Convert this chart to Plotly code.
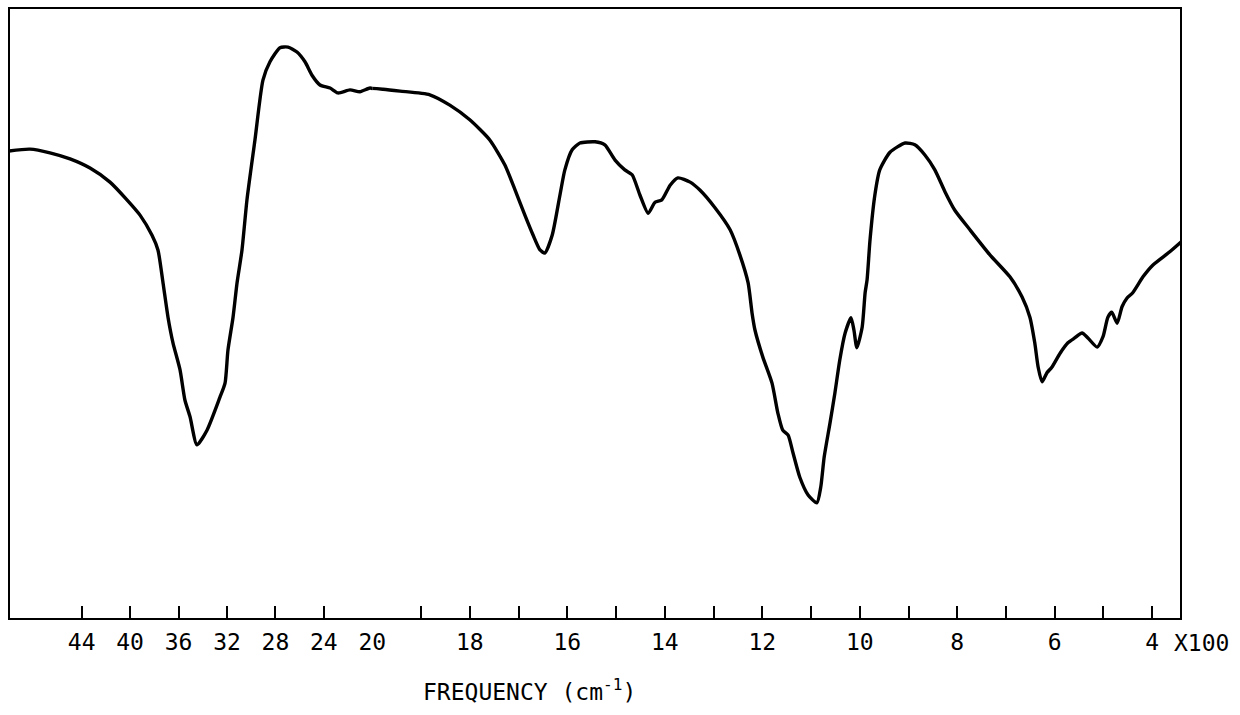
import plotly.graph_objects as go

# Wavenumber (cm^-1) and transmittance (%)
wavenumber = [5000, 4827, 4662, 4496, 4331, 4166, 4026, 3918, 3819, 3770, 3728, 3687, 3646, 3588,
              3547, 3505, 3448, 3365, 3258, 3216, 3192, 3150, 3117, 3076, 3035, 2969, 2903, 2845,
              2762, 2696, 2622, 2556, 2498, 2432, 2349, 2283, 2184, 2102, 2019,
              1978, 1943, 1882, 1841, 1800, 1759, 1728, 1707, 1687, 1670, 1656, 1646, 1631, 1615,
              1605, 1590, 1574, 1543, 1523, 1502, 1482, 1467, 1451, 1434, 1420, 1406, 1389, 1373,
              1348, 1328, 1297, 1266, 1246, 1229, 1221, 1215, 1199, 1180, 1168, 1158, 1147, 1137,
              1123, 1106, 1088, 1080, 1073, 1061, 1051, 1041, 1030, 1018, 1012, 1006, 995, 989,
              985, 979, 969, 959, 938, 907, 887, 866, 846, 825, 805, 774, 733, 692, 667, 651, 641,
              634, 626, 616, 606, 589, 573, 559, 544, 532, 513, 501, 491, 483, 472, 462, 452, 440,
              419, 399, 364, 341]
transmittance = [76.6, 76.9, 76.3, 75.3, 73.8, 71.5, 68.6, 66.1, 62.8, 60.4, 55.0, 49.4, 45.2, 40.8,
                 35.8, 33.1, 28.5, 30.9, 36.3, 38.6, 44.0, 49.4, 55.0, 60.4, 68.6, 78.4, 88.2, 91.2,
                 93.5, 93.6, 92.8, 91.2, 89.0, 87.4, 86.9, 86.1, 86.6, 86.3, 86.9,
                 86.7, 86.4, 85.8, 84.1, 81.7, 78.4, 74.3, 70.2, 66.1, 62.8, 60.4, 59.9, 62.8, 69.4,
                 73.5, 76.8, 77.9, 78.1, 77.6, 75.1, 73.5, 72.7, 69.4, 66.4, 68.2, 68.6, 71.0, 72.2,
                 71.5, 70.2, 67.3, 63.7, 59.6, 55.0, 50.1, 47.3, 42.9, 38.6, 33.7, 30.9, 30.1, 27.2,
                 23.2, 20.3, 19.0, 21.6, 26.5, 32.1, 37.0, 42.4, 46.8, 49.3, 47.3, 44.4, 47.8, 53.4,
                 55.5, 62.0, 69.4, 73.5, 76.4, 77.9, 77.6, 75.9, 73.5, 69.9, 66.9, 63.7, 59.6, 56.0,
                 52.7, 49.4, 45.2, 41.2, 38.8, 40.3, 41.2, 43.5, 45.2, 46.0, 46.8, 46.0, 44.5, 46.2,
                 49.4, 50.2, 48.4, 51.1, 52.5, 53.4, 56.0, 57.9, 60.1, 61.7]

# Axis scale: 5000-2000 compressed, 2000-340 expanded
high_range = [5000, 2000]
low_range = [2000, 341]
high_ticks = [4400, 4000, 3600, 3200, 2800, 2400, 2000]
high_labels = ["44", "40", "36", "32", "28", "24", "20"]
low_ticks = [1800, 1600, 1400, 1200, 1000, 800, 600, 400]
low_labels = ["18", "16", "14", "12", "10", "8", "6", "4"]
low_minor_ticks = [1900, 1700, 1500, 1300, 1100, 900, 700, 500]

split = (372.3 - 9) / 1172.0
font = dict(family="DejaVu Sans Mono", size=23, color="black")

fig = go.Figure()
line = dict(color="black", width=3.4, shape="spline", smoothing=0.6)
fig.add_trace(go.Scatter(x=wavenumber, y=transmittance, mode="lines", line=line,
                         xaxis="x", yaxis="y", showlegend=False, hoverinfo="skip"))
fig.add_trace(go.Scatter(x=wavenumber, y=transmittance, mode="lines", line=line,
                         xaxis="x2", yaxis="y", showlegend=False, hoverinfo="skip"))

axis_common = dict(showgrid=False, zeroline=False, showline=False, ticks="inside", ticklen=13,
                   tickwidth=2, tickcolor="black", tickfont=font, ticklabelstandoff=7, fixedrange=True)
fig.update_layout(
    width=1240, height=715,
    margin=dict(l=9, r=59, t=8, b=96),
    paper_bgcolor="white", plot_bgcolor="white",
    xaxis=dict(domain=[0, split], range=high_range, tickmode="array", tickvals=high_ticks,
               ticktext=high_labels, anchor="y", **axis_common),
    xaxis2=dict(domain=[split, 1], range=low_range, tickmode="array", tickvals=low_ticks,
                ticktext=low_labels, anchor="y",
                minor=dict(tickmode="array", tickvals=low_minor_ticks, ticks="inside", ticklen=13,
                           tickwidth=2, tickcolor="black", showgrid=False),
                **axis_common),
    yaxis=dict(range=[0, 100], showticklabels=False, showgrid=False, zeroline=False, ticks="",
               fixedrange=True),
    shapes=[dict(type="rect", xref="paper", yref="paper", x0=0, x1=1, y0=0, y1=1,
                 line=dict(color="black", width=2))],
    annotations=[
        dict(text="X100", xref="paper", yref="paper", x=(1201 - 9) / 1172.0, y=(619 - 643) / 611.0,
             xanchor="center", yanchor="middle", showarrow=False, font=font),
        dict(text="FREQUENCY (cm<sup>-1</sup>)", xref="paper", yref="paper",
             x=(529 - 9) / 1172.0, y=(619 - 690) / 611.0, xanchor="center", yanchor="middle",
             showarrow=False, font=font),
    ],
)

fig.write_html("out.html")
